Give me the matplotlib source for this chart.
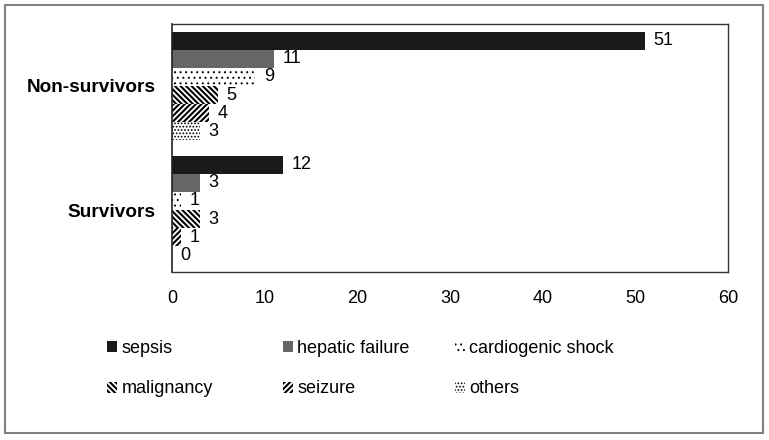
import matplotlib
matplotlib.use("Agg")
import matplotlib.pyplot as plt
from matplotlib.patches import Rectangle, Patch
import numpy as np

plt.rcParams['font.family'] = ['Liberation Sans', 'DejaVu Sans']
plt.rcParams['hatch.linewidth'] = 1.5

groups = ["Survivors", "Non-survivors"]
causes = ["sepsis", "hepatic failure", "cardiogenic shock", "malignancy", "seizure", "others"]
survivors = [12, 3, 1, 3, 1, 0]
non_survivors = [51, 11, 9, 5, 4, 3]
xticks = [0, 10, 20, 30, 40, 50, 60]

colors = ["#1a1a1a", "#666666", "white", "white", "white", "white"]
hatches = [None, None, "...", "\\\\\\\\\\\\", "//////", "....."]
hatch_lw = [1.5, 1.5, 0.7, 1.5, 1.5, 0.8]

W, H = 769, 440
fig = plt.figure(figsize=(W / 100, H / 100), dpi=100)
ax = fig.add_axes([172 / W, 1 - 272 / H, (728 - 172) / W, (272 - 24) / H])


def set_hlw(p, lw):
    if hasattr(p, "set_hatch_linewidth"):
        p.set_hatch_linewidth(lw)


bh = 0.146
n = len(causes)
ypos = np.arange(len(groups))
vals = np.array([survivors, non_survivors])
for i, c in enumerate(causes):
    off = (n - 1) / 2 * bh - i * bh
    bars = ax.barh(ypos + off, vals[:, i], height=bh, color=colors[i],
                   hatch=hatches[i], edgecolor="black", linewidth=0, label=c)
    for b in bars:
        set_hlw(b, hatch_lw[i])
    ax.bar_label(bars, padding=6, fontsize=13)

ax.set_xlim(0, 60)
ax.set_ylim(-0.5, 1.5)
ax.set_xticks(xticks)
ax.set_xticklabels([str(t) for t in xticks], fontsize=13)
ax.set_yticks(ypos)
ax.set_yticklabels(groups, fontsize=13.7, fontweight="bold")
ax.tick_params(axis="x", length=0, pad=13)
ax.tick_params(axis="y", length=0, pad=12)
for s in ["top", "right", "bottom"]:
    ax.spines[s].set_color("#333333")
    ax.spines[s].set_linewidth(1.0)
ax.spines["left"].set_color("#222222")
ax.spines["left"].set_linewidth(1.2)

handles = []
for i in range(n):
    p = Patch(facecolor=colors[i], hatch=hatches[i], edgecolor="black",
              linewidth=0, label=causes[i])
    set_hlw(p, hatch_lw[i])
    handles.append(p)
col_x = [107, 283, 455]
for j in range(3):
    leg = fig.legend(handles=[handles[j], handles[j + 3]], loc="upper left",
                     bbox_to_anchor=(col_x[j] / W, 1 - 340 / H), frameon=False,
                     fontsize=13, handlelength=0.55, handleheight=0.55,
                     handletextpad=0.25, labelspacing=1.3, borderpad=0,
                     borderaxespad=0)
    for k, lp in enumerate(leg.get_patches()):
        set_hlw(lp, hatch_lw[[j, j + 3][k]])

fig.add_artist(Rectangle((5 / W, 1 - 433 / H), 758 / W, 428 / H,
                         transform=fig.transFigure, fill=False,
                         edgecolor="#808080", linewidth=1.5))

fig.savefig("out.png", dpi=100)
